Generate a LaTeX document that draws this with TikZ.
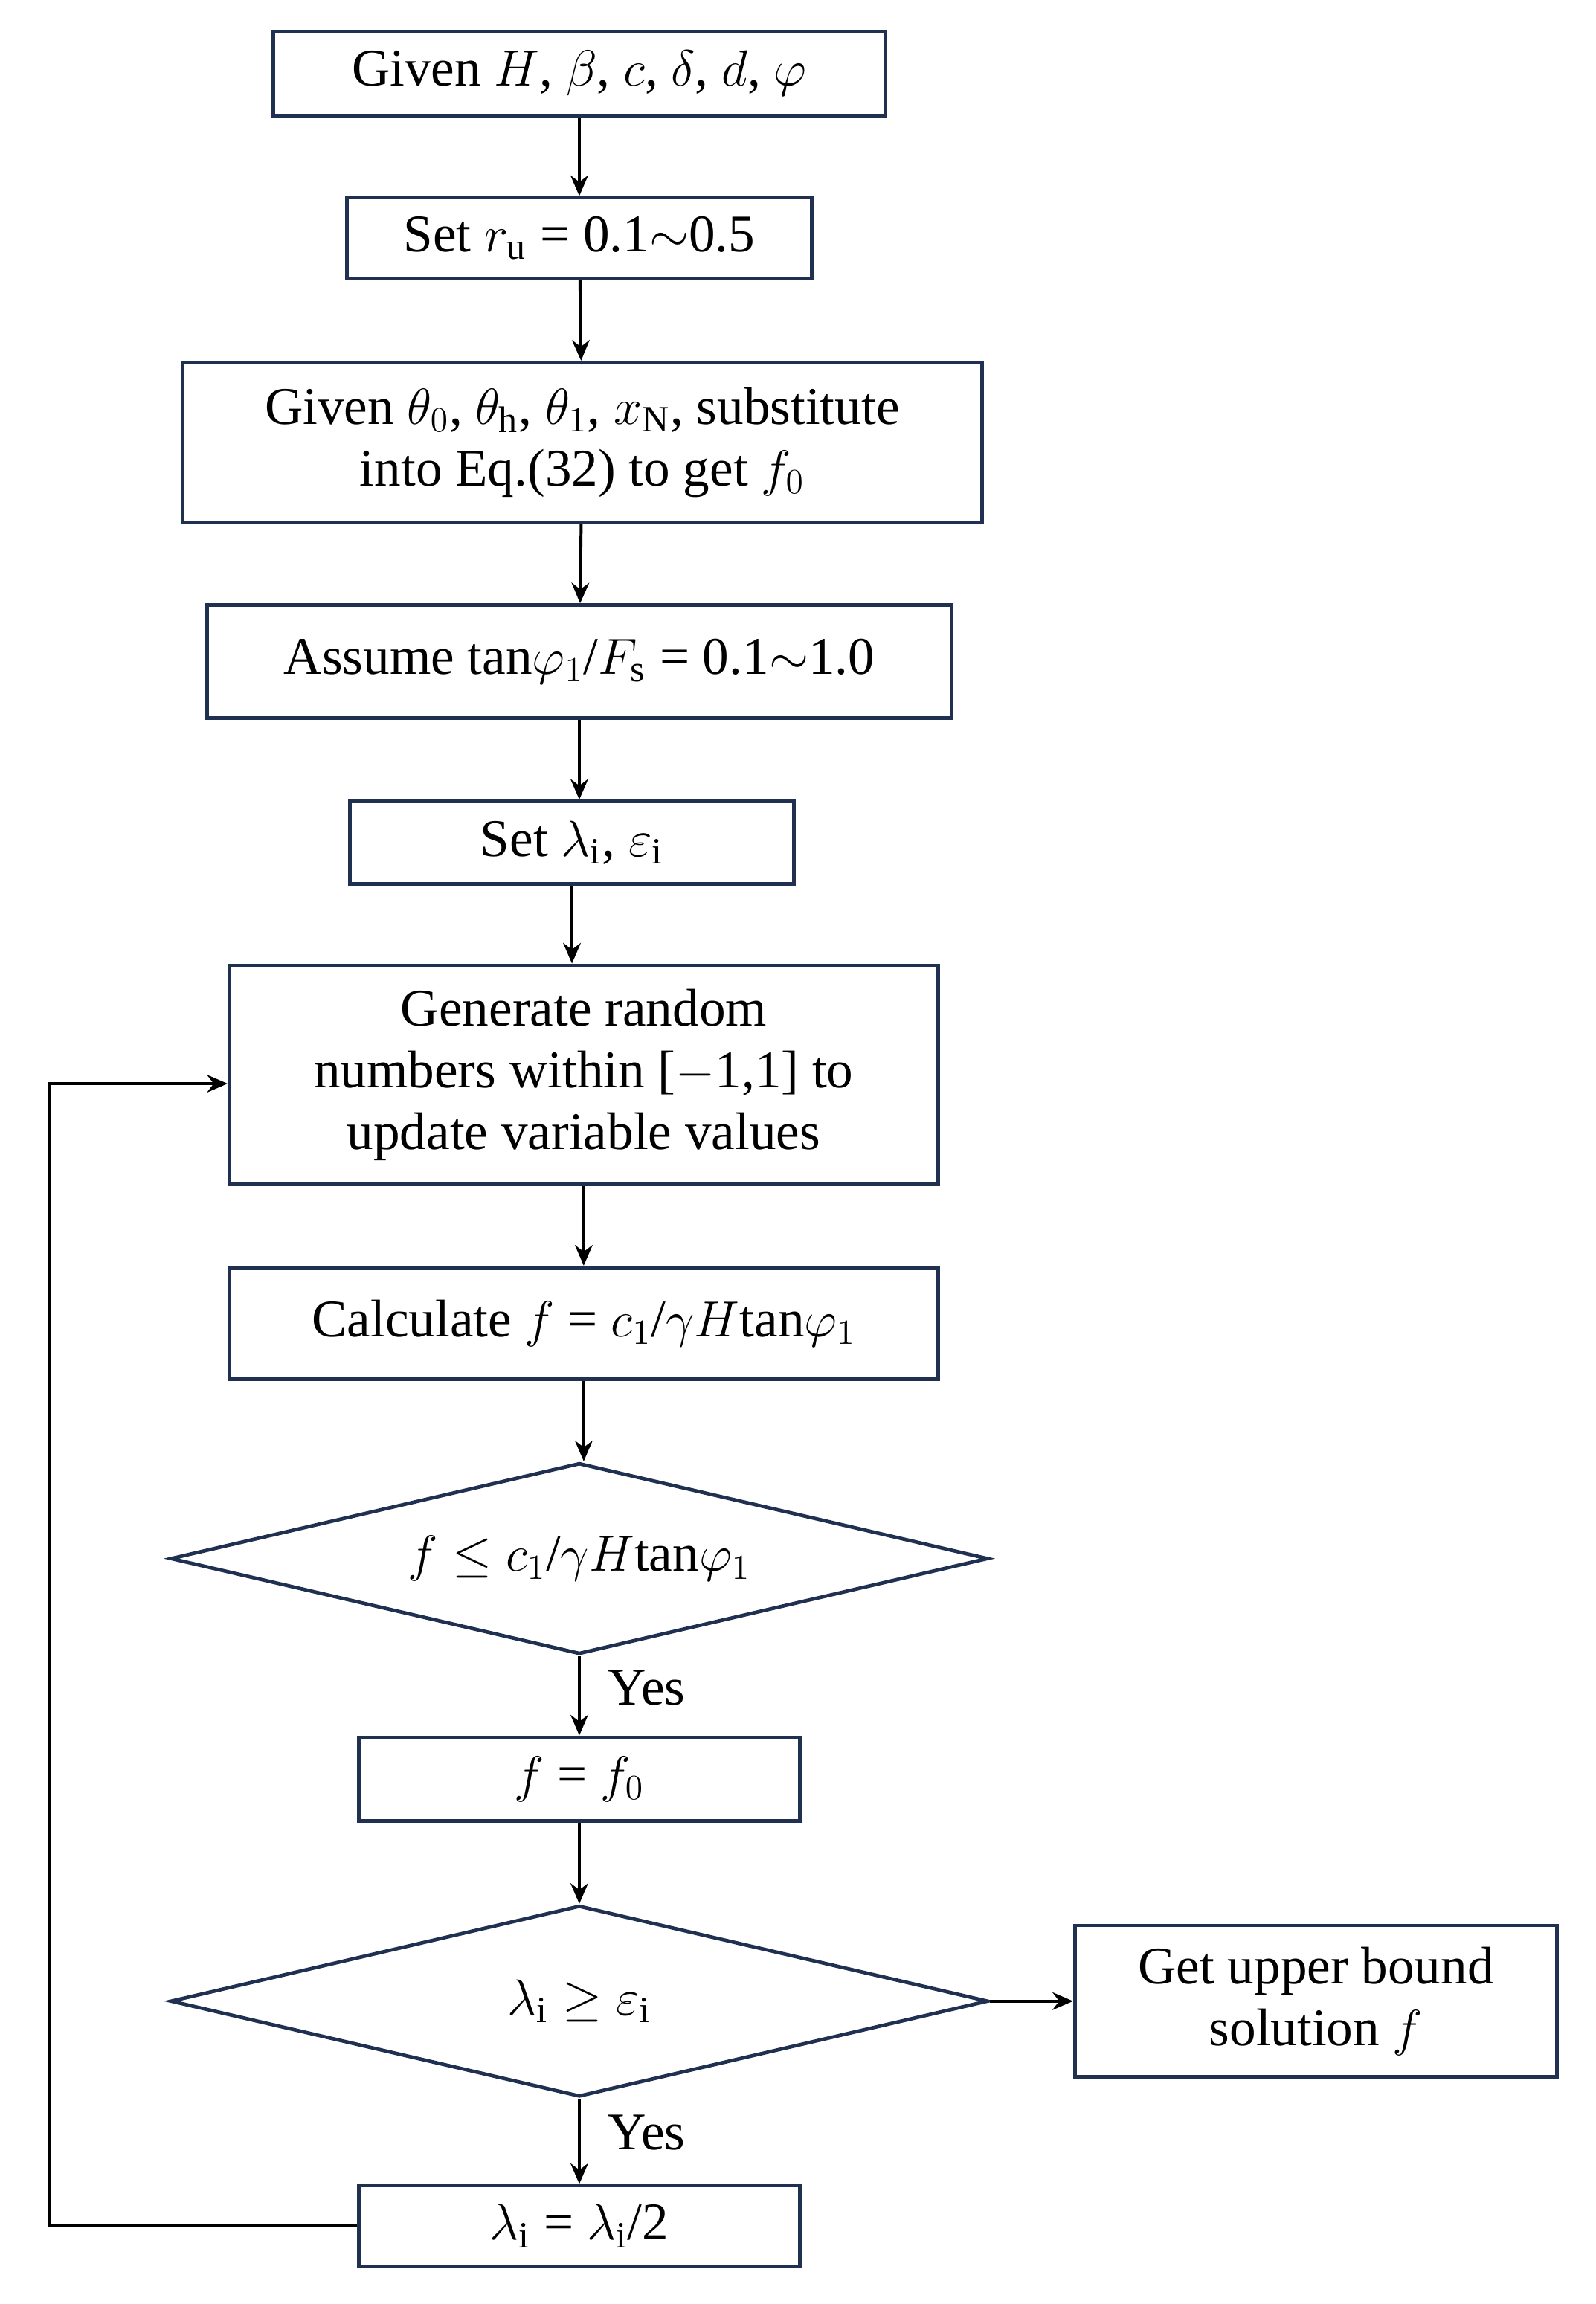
\documentclass[tikz,border=0pt]{standalone}
\usepackage{fontspec}
\setmainfont{Liberation Serif}
\usetikzlibrary{shapes.geometric,arrows.meta}
\definecolor{bx}{HTML}{1F3050}
\begin{document}
\begin{tikzpicture}[x=0.5pt,y=-0.5pt,
  font=\fontsize{18}{21}\selectfont,
  box/.style={draw=bx,line width=1.2pt,rectangle,inner sep=0pt,align=center},
  dia/.style={draw=bx,line width=1.2pt,diamond,inner sep=0pt,aspect=4.3,align=center},
  arr/.style={-{Stealth[length=7pt,width=6pt]},line width=1pt}]
\useasboundingbox (0,0) rectangle (1085,1567);
\node[box,minimum width=208pt,minimum height=28.5pt] (n1) at (394,50) {Given $H$, $\beta$, $c$, $\delta$, $d$, $\varphi$};
\node[box,minimum width=158pt,minimum height=27.5pt] (n2) at (394,162) {Set $r_{\mathrm{u}}$ = 0.1$\sim$0.5};
\node[box,minimum width=272pt,minimum height=54.5pt] (n3) at (396,301) {Given $\theta_0$, $\theta_{\mathrm{h}}$, $\theta_1$, $x_{\mathrm{N}}$, substitute\\ into Eq.(32) to get $f_0$};
\node[box,minimum width=253pt,minimum height=38.5pt] (n4) at (394,450) {Assume tan$\varphi_1$/$F_{\mathrm{s}}$ = 0.1$\sim$1.0};
\node[box,minimum width=151pt,minimum height=28pt] (n5) at (389,573) {Set $\lambda_{\mathrm{i}}$, $\varepsilon_{\mathrm{i}}$};
\node[box,minimum width=241pt,minimum height=74.5pt] (n6) at (397,731) {Generate random\\ numbers within [$-$1,1] to\\ update variable values};
\node[box,minimum width=241pt,minimum height=38pt] (n7) at (397,900) {Calculate $f$ = $c_1$/$\gamma H$tan$\varphi_1$};
\node[dia,minimum width=278pt,minimum height=65pt] (n8) at (394,1060) {$f \leq c_1$/$\gamma H$tan$\varphi_1$};
\node[box,minimum width=150pt,minimum height=28.5pt] (n9) at (394,1210) {$f$ = $f_0$};
\node[dia,minimum width=278pt,minimum height=65pt] (n10) at (394,1361) {$\lambda_{\mathrm{i}} \geq \varepsilon_{\mathrm{i}}$};
\node[box,minimum width=164pt,minimum height=51.5pt] (n11) at (895,1361) {Get upper bound\\ solution $f$};
\node[box,minimum width=150pt,minimum height=27.5pt] (n12) at (394,1514) {$\lambda_{\mathrm{i}}$ = $\lambda_{\mathrm{i}}$/2};
\draw[arr] (n1) -- (n2);
\draw[arr] (n2) -- (n3);
\draw[arr] (n3) -- (n4);
\draw[arr] (n4.south) -- (n4.south |- n5.north);
\draw[arr] (n5.south) -- (n5.south |- n6.north);
\draw[arr] (n6.south) -- (n6.south |- n7.north);
\draw[arr] (n7.south) -- (n7.south |- n8.north);
\draw[arr] (n8) -- node[right,pos=0.4,xshift=6pt] {Yes} (n9);
\draw[arr] (n9) -- (n10);
\draw[arr] (n10) -- node[right,pos=0.4,xshift=6pt] {Yes} (n12);
\draw[arr] (n10) -- (n11);
\coordinate (c1) at (34,1514);
\coordinate (c2) at (34,737);
\draw[arr] (n12.west) -- (c1) -- (c2) -- (n6.west |- c2);
\end{tikzpicture}
\end{document}
